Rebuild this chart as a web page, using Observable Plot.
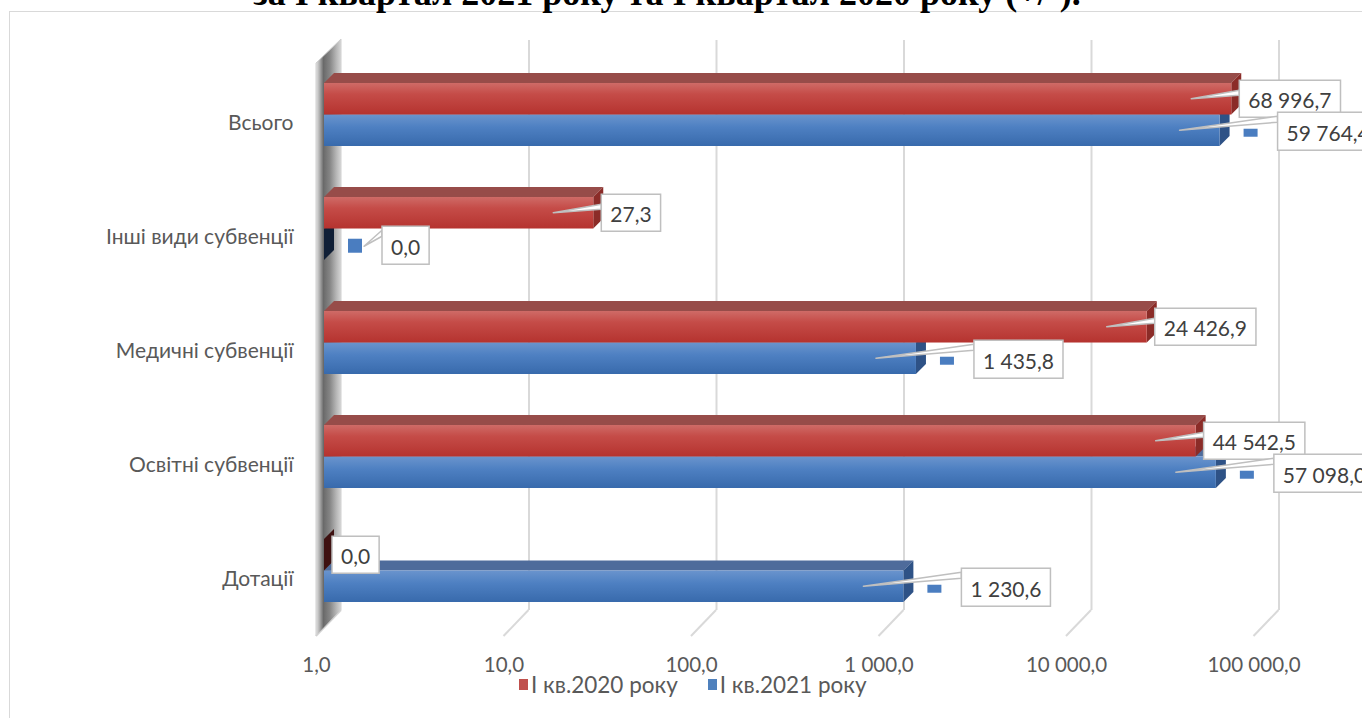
<!DOCTYPE html>
<html>
<head>
<meta charset="utf-8">
<script src="https://cdn.jsdelivr.net/npm/d3@7"></script>
<script src="https://cdn.jsdelivr.net/npm/@observablehq/plot@0.6"></script>
<style>
html,body{margin:0;padding:0;background:#fff;overflow:hidden;}
#wrap{position:relative;width:1362px;height:718px;overflow:hidden;font-family:Lato,"Noto Sans",sans-serif;}
#frame{position:absolute;left:9px;top:11px;width:1400px;height:740px;border:1.5px solid #d9d9d9;box-sizing:border-box;}
#title{position:absolute;left:0;width:1334px;top:-25px;text-align:center;font:bold 36px/36px "Liberation Serif","Times New Roman",serif;color:#000;white-space:nowrap;}
#chart{position:absolute;left:0;top:0;}
#legend{position:absolute;top:671px;left:519px;display:flex;align-items:center;font-size:22.5px;color:#595959;white-space:nowrap;}
#legend .sw{display:inline-block;width:9px;height:11px;margin-right:3px;}
#legend .item{display:flex;align-items:center;margin-right:30px;}
</style>
</head>
<body>
<div id="wrap">
  <div id="frame"></div>
  <div id="title">за І квартал 2021 року та І квартал 2020 року (+/-).</div>
  <div id="chart"></div>
  <div id="legend"></div>
</div>
<script>
// ---- data ----
const categories = ["Всього", "Інші види субвенції", "Медичні субвенції", "Освітні субвенції", "Дотації"];
const seriesNames = ["І кв.2020 року", "І кв.2021 року"];
const values2020 = [68996.7, 27.3, 24426.9, 44542.5, 0.0];
const values2021 = [59764.4, 0.0, 1435.8, 57098.0, 1230.6];
const tickValues = [1, 10, 100, 1000, 10000, 100000];
const tickLabels = ["1,0", "10,0", "100,0", "1 000,0", "10 000,0", "100 000,0"];
const swatchColors = ["#c0504d", "#4f81bd"];

const rows = [];
categories.forEach((c, i) => {
  rows.push({category: c, s: 0, series: seriesNames[0], value: values2020[i]});
  rows.push({category: c, s: 1, series: seriesNames[1], value: values2021[i]});
});

// ---- styles ----
const faceColors = [
  {top: "#974c49", side: "#8b2c28", zero: "#3e1111"},
  {top: "#4e6b9b", side: "#2e5286", zero: "#101f36"}
];
const W = 1362, H = 718;
const mTop = 30, mBottom = 64, mLeft = 324, mRight = 100.5;
const yPad = 0.45;
const step = (H - mTop - mBottom) / (categories.length + yPad);
const bw = step * (1 - yPad);
const D = 10; // 3D depth
const fmt = d3.formatLocale({decimal: ",", thousands: " ", grouping: [3]}).format(",.1f");
const cnv = document.createElement("canvas").getContext("2d");
cnv.font = "21px Lato";

function defsMark() {
  const g = d3.create("svg:g");
  const defs = g.append("defs");
  const mk = (id, stops, horiz) => {
    const lg = defs.append("linearGradient").attr("id", id)
      .attr("x1", 0).attr("y1", 0).attr("x2", horiz ? 1 : 0).attr("y2", horiz ? 0 : 1);
    stops.forEach(([o, c]) => lg.append("stop").attr("offset", o).attr("stop-color", c));
  };
  mk("gRed", [[0, "#cf6b67"], [0.35, "#c54c48"], [1, "#b5332f"]]);
  mk("gBlue", [[0, "#6a94cd"], [0.4, "#4e80c2"], [1, "#386aac"]]);
  mk("gWall", [[0, "#e4e4e4"], [0.12, "#b8b8b8"], [0.3, "#6a6a6a"], [0.55, "#858585"], [0.8, "#b4b4b4"], [1, "#d6d6d6"]], true);
  return g.node();
}

function wallAndFloor(index, scales) {
  const x = scales.x;
  const g = d3.create("svg:g");
  const yTopFront = mTop + 33, yTopBack = mTop + 9;
  const yBack = H - mBottom - 44, yFront = H - mBottom - 18;
  tickValues.forEach(v => {
    g.append("line")
      .attr("x1", x(v) + 17).attr("y1", yBack)
      .attr("x2", x(v) - 8).attr("y2", yFront)
      .attr("stroke", "#d9d9d9").attr("stroke-width", 2);
  });
  const x0 = x(tickValues[0]);
  g.append("path")
    .attr("d", `M${x0 - 8},${yTopFront}L${x0 + 17},${yTopBack}L${x0 + 17},${yBack}L${x0 - 8},${yFront}Z`)
    .attr("fill", "url(#gWall)").attr("stroke", "#d0d0d0").attr("stroke-width", 1);
  return g.node();
}

function facesMark(s) {
  return (index, scales) => {
    const x = scales.x, y = scales.y;
    const x0 = x(1);
    const g = d3.create("svg:g");
    rows.filter(r => r.s === s).forEach(r => {
      const xe = r.value > 1 ? x(r.value) : x0;
      const yt = y(r.category) + (s === 0 ? 0 : bw / 2);
      const yb = yt + bw / 2;
      const col = faceColors[s];
      if (xe > x0) {
        g.append("path")
          .attr("d", `M${x0},${yt}L${x0 + D},${yt - D}L${xe + D},${yt - D}L${xe},${yt}Z`)
          .attr("fill", col.top);
      }
      g.append("path")
        .attr("d", `M${xe},${yt}L${xe + D},${yt - D}L${xe + D},${yb - D}L${xe},${yb}Z`)
        .attr("fill", r.value > 1 ? col.side : col.zero);
    });
    return g.node();
  };
}

function labelsMark(index, scales) {
  const x = scales.x, y = scales.y;
  const x0 = x(1);
  const g = d3.create("svg:g");
  rows.forEach(r => {
    const xe = r.value > 1 ? x(r.value) : x0;
    const barC = y(r.category) + (r.s === 0 ? bw / 4 : 3 * bw / 4);
    const text = fmt(r.value);
    const tw = cnv.measureText(text).width;
    const bwid = tw + 18;
    const bh = r.s === 0 ? 37 : 38;
    const bl = r.s === 0 ? xe + 8 : xe + 58;
    const bc = r.s === 0 ? barC : barC + 1;
    const btop = bc - bh / 2;
    const tipX = r.value > 1 ? xe - 40 : x0 + 40;
    const tipY = r.value > 1 ? barC : barC + 2;
    if (r.s === 1) {
      const kh = r.value > 1 ? 8 : 14;
      const kc = r.value > 1 ? barC + 2.5 : barC + 1.5;
      g.append("rect").attr("x", xe + 24).attr("y", kc - kh / 2).attr("width", 14).attr("height", kh)
        .attr("fill", "#4a7dc0");
    }
    if (tipX < bl) {
      const b1 = r.s === 0 ? bc - 8.5 : btop + 4;
      const b2 = r.s === 0 ? bc - 3.5 : btop + 10;
      g.append("path")
        .attr("d", `M${tipX},${tipY}L${bl},${b1}L${bl},${b2}Z`)
        .attr("fill", "#fff").attr("stroke", "#bfbfbf").attr("stroke-width", 1.5).attr("stroke-linejoin", "round");
    }
    g.append("rect").attr("x", bl).attr("y", btop).attr("width", bwid).attr("height", bh)
      .attr("fill", "#fff").attr("stroke", "#bfbfbf").attr("stroke-width", 1.5);
    g.append("text").attr("x", bl + 9).attr("y", bc + 1)
      .attr("text-anchor", "start")
      .attr("dominant-baseline", "central")
      .attr("font-family", "Lato").attr("font-size", 21).attr("fill", "#404040")
      .text(text);
  });
  return g.node();
}

const positive = rows.filter(r => r.value > 0);

const chart = Plot.plot({
  width: W, height: H,
  marginTop: mTop, marginBottom: mBottom, marginLeft: mLeft, marginRight: mRight,
  x: {type: "log", domain: [tickValues[0], tickValues[tickValues.length - 1]], axis: null},
  y: {domain: categories, padding: yPad, axis: null},
  style: {background: "transparent", fontFamily: "Lato, 'Noto Sans', sans-serif", overflow: "visible"},
  marks: [
    defsMark,
    Plot.ruleX(tickValues.slice(1), {x: d => d, dx: 17, insetTop: 10, insetBottom: 44, stroke: "#d9d9d9", strokeWidth: 2}),
    wallAndFloor,
    facesMark(1),
    Plot.barX(positive.filter(r => r.s === 1), {y: "category", x1: () => 1, x2: "value", insetTop: bw / 2, fill: "url(#gBlue)"}),
    facesMark(0),
    Plot.barX(positive.filter(r => r.s === 0), {y: "category", x1: () => 1, x2: "value", insetBottom: bw / 2, fill: "url(#gRed)"}),
    Plot.text(categories, {y: d => d, x: () => 1, dx: -31, dy: 8, textAnchor: "end", fontSize: 21, fill: "#595959"}),
    Plot.text(tickValues, {x: d => d, text: (d, i) => tickLabels[i], frameAnchor: "bottom", lineAnchor: "middle", dx: -8, dy: 11, fontSize: 20.5, fill: "#595959"}),
    labelsMark
  ]
});
document.getElementById("chart").appendChild(chart);

// legend
const legend = d3.select("#legend");
seriesNames.forEach((name, i) => {
  const item = legend.append("div").attr("class", "item");
  item.append("span").attr("class", "sw").style("background", swatchColors[i]);
  item.append("span").text(name);
});
</script>
</body>
</html>
